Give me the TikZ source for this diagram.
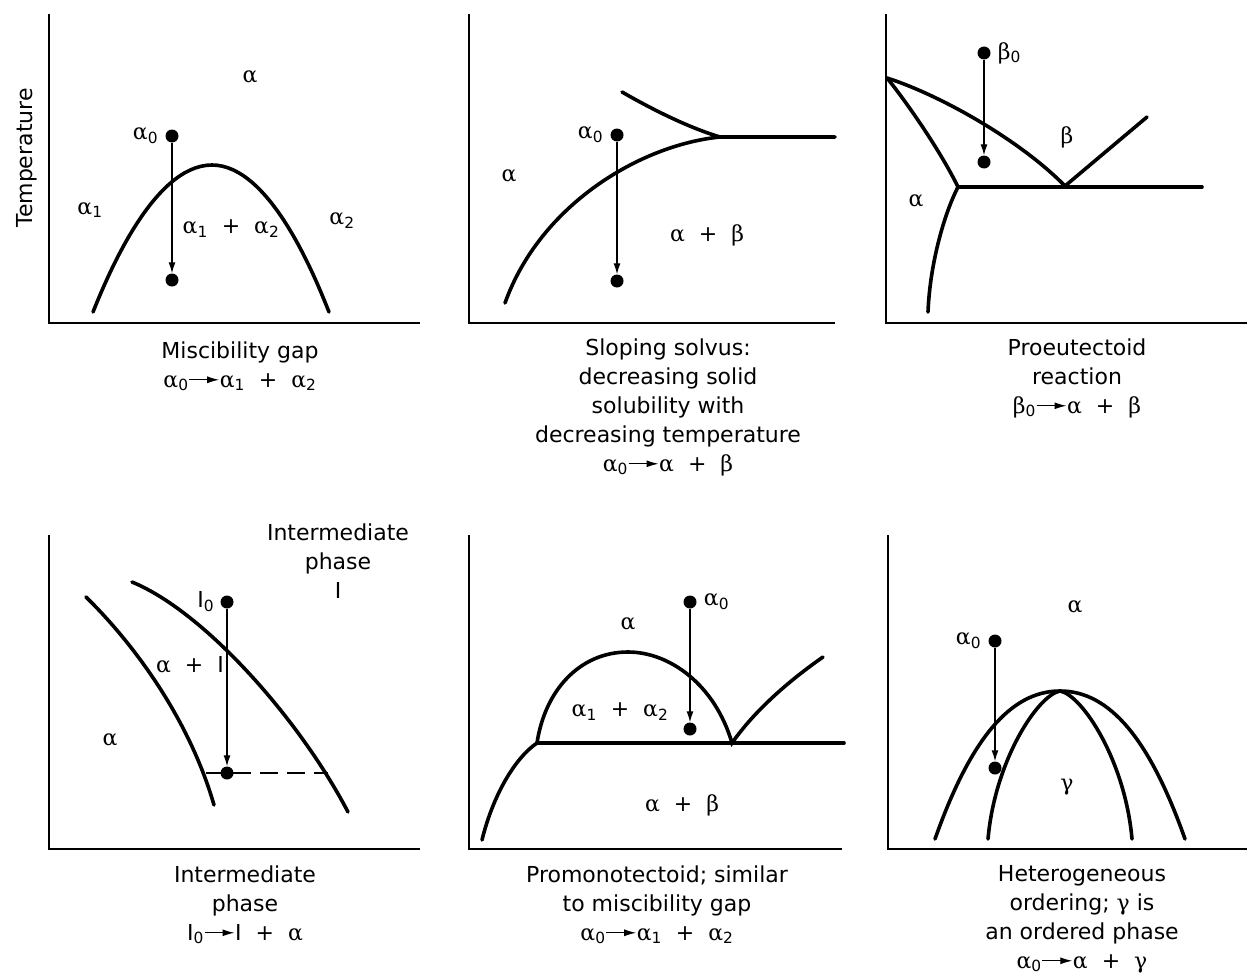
\documentclass[tikz,border=0pt]{standalone}
\usepackage{fix-cm}
\usepackage{fontspec}
\setmainfont{DejaVu Sans}
\newfontfamily\grk{DejaVu Serif}
\usepackage{tikz}
\usetikzlibrary{arrows.meta,positioning}

\newcommand{\gAl}{{\grk α}}
\newcommand{\gBe}{{\grk β}}
\newcommand{\gGa}{{\grk γ}}
\newcommand{\lo}[1]{\textsubscript{#1}}
\newcommand{\rxarrow}{\tikz[baseline=-0.6ex]\draw[line width=1.2pt,-{Latex[length=12pt,width=7pt]}] (0pt,0pt) -- (30pt,0pt);}

\begin{document}
\begin{tikzpicture}[x=1pt, y=-1pt,
  bnd/.style={line width=3.6pt, line cap=round},
  axline/.style={line width=2pt},
  sdot/.style={circle, fill, inner sep=0pt, minimum size=13pt},
  cool/.style={line width=1.3pt, -{Latex[length=11pt,width=7pt]}},
  lbl/.style={font=\fontsize{22}{26}\selectfont, inner sep=1pt},
  capt/.style={font=\fontsize{22}{29}\selectfont, align=center, anchor=base}]

\useasboundingbox (0,0) rectangle (1247,974);

% Lacuna di miscibilita
\draw[axline] (49,14) -- (49,323) -- (420,323);
\node[rotate=90, font=\fontsize{22}{29}\selectfont] (temp) at (27,158) {Temperature};
\draw[bnd] (93,312) parabola bend (212,165) (329,312);
\node[sdot] (mg0) at (172,136) {};
\node[sdot] (mg1) at (172,280) {};
\draw[cool] (mg0) -- (mg1);
\node[lbl, left=6pt of mg0] (mgl) {\gAl\lo{0}};
\node[lbl] (mga) at (250,77) {\gAl};
\node[lbl] (mga1) at (90,210) {\gAl\lo{1}};
\node[lbl] (mga12) at (231,229) {\gAl\lo{1}~~+~~\gAl\lo{2}};
\node[lbl] (mga2) at (342,221) {\gAl\lo{2}};
\node[capt] (mgc) at (240,387) {Miscibility gap\\\gAl\lo{0}\rxarrow\gAl\lo{1}~~+~~\gAl\lo{2}};

% Solvus inclinato
\draw[axline] (469,14) -- (469,323) -- (835,323);
\coordinate (sv) at (720,137);
\draw[bnd] (505,303) .. controls (540,205) and (640,145) .. (sv) -- (835,137);
\draw[bnd] (622,92) .. controls (655,111) and (690,128) .. (sv);
\node[sdot] (sv0) at (617,135) {};
\node[sdot] (sv1) at (617,281) {};
\draw[cool] (sv0) -- (sv1);
\node[lbl, left=6pt of sv0] (svl) {\gAl\lo{0}};
\node[lbl] (sva) at (509,176) {\gAl};
\node[lbl] (svab) at (707,235) {\gAl~~+~~\gBe};
\node[capt] (svc) at (668,471) {Sloping solvus:\\decreasing solid\\solubility with\\decreasing temperature\\\gAl\lo{0}\rxarrow\gAl~~+~~\gBe};

% Proeutettoide
\draw[axline] (886,14) -- (886,323) -- (1247,323);
\coordinate (pe) at (887,78);
\coordinate (eu) at (1065,186);
\coordinate (tr) at (958,187);
\draw[bnd] (pe) .. controls (940,95) and (1020,140) .. (eu) -- (1147,117);
\draw[bnd] (pe) .. controls (905,100) and (940,150) .. (tr) .. controls (945,212) and (930,262) .. (928,312);
\draw[bnd] (tr) -- (1202,187);
\node[sdot] (pe0) at (984,53) {};
\node[sdot] (pe1) at (984,162) {};
\draw[cool] (pe0) -- (pe1);
\node[lbl, right=6pt of pe0] (pel) {\gBe\lo{0}};
\node[lbl] (peb) at (1067,137) {\gBe};
\node[lbl] (pea) at (916,201) {\gAl};
\node[capt] (pec) at (1077,413) {Proeutectoid\\reaction\\\gBe\lo{0}\rxarrow\gAl~~+~~\gBe};

% Fase intermedia
\draw[axline] (49,535) -- (49,849) -- (420,849);
\draw[bnd] (86,597) .. controls (130,640) and (188,715) .. (214,805);
\draw[bnd] (132,582) .. controls (205,612) and (300,720) .. (348,812);
\node[sdot] (im0) at (227,602) {};
\node[sdot] (im1) at (227,773) {};
\draw[cool] (im0) -- (im1);
\coordinate (tl) at (206,773);
\coordinate (tr2) at (328,773);
\draw[line width=1.7pt, dash pattern=on 18pt off 9pt] (tl) -- (tr2);
\node[lbl, left=5pt of im0] (iml) {I\lo{0}};
\node[capt] (imt) at (338,598) {Intermediate\\phase\\I};
\node[lbl] (imai) at (190,665) {\gAl~~+~~I};
\node[lbl] (ima) at (110,740) {\gAl};
\node[capt] (imc) at (245,940) {Intermediate\\phase\\I\lo{0}\rxarrow I~~+~~\gAl};

% Promonotettoide
\draw[axline] (469,535) -- (469,849) -- (842,849);
\coordinate (m1) at (537,743);
\coordinate (m2) at (732,743);
\draw[bnd] (482,840) .. controls (493,795) and (515,758) .. (m1) .. controls (545,690) and (580,652) .. (628,652) .. controls (670,652) and (715,685) .. (m2) .. controls (755,710) and (790,680) .. (823,657);
\draw[bnd] (m1) -- (844,743);
\node[sdot] (pm0) at (690,602) {};
\node[sdot] (pm1) at (690,729) {};
\draw[cool] (pm0) -- (pm1);
\node[lbl, right=6pt of pm0] (pml) {\gAl\lo{0}};
\node[lbl] (pma) at (628,624) {\gAl};
\node[lbl] (pma12) at (620,712) {\gAl\lo{1}~~+~~\gAl\lo{2}};
\node[lbl] (pmab) at (682,805) {\gAl~~+~~\gBe};
\node[capt] (pmc) at (657,940) {Promonotectoid; similar\\to miscibility gap\\\gAl\lo{0}\rxarrow\gAl\lo{1}~~+~~\gAl\lo{2}};

% Ordinamento eterogeneo
\draw[axline] (888,535) -- (888,849) -- (1247,849);
\coordinate (hp) at (1060,691);
\draw[bnd] (935,839) .. controls (970,740) and (1010,691) .. (hp) .. controls (1110,691) and (1150,740) .. (1185,839);
\draw[bnd] (988,839) .. controls (995,760) and (1038,695) .. (hp) .. controls (1082,695) and (1125,760) .. (1132,839);
\node[sdot] (ho0) at (995,641) {};
\node[sdot] (ho1) at (995,768) {};
\draw[cool] (ho0) -- (ho1);
\node[lbl, left=6pt of ho0] (hol) {\gAl\lo{0}};
\node[lbl] (hoa) at (1075,607) {\gAl};
\node[lbl] (hog) at (1067,787) {\gGa};
\node[capt] (hoc) at (1082,968) {Heterogeneous\\ordering; \gGa{} is\\an ordered phase\\\gAl\lo{0}\rxarrow\gAl~~+~~\gGa};

\end{tikzpicture}
\end{document}
